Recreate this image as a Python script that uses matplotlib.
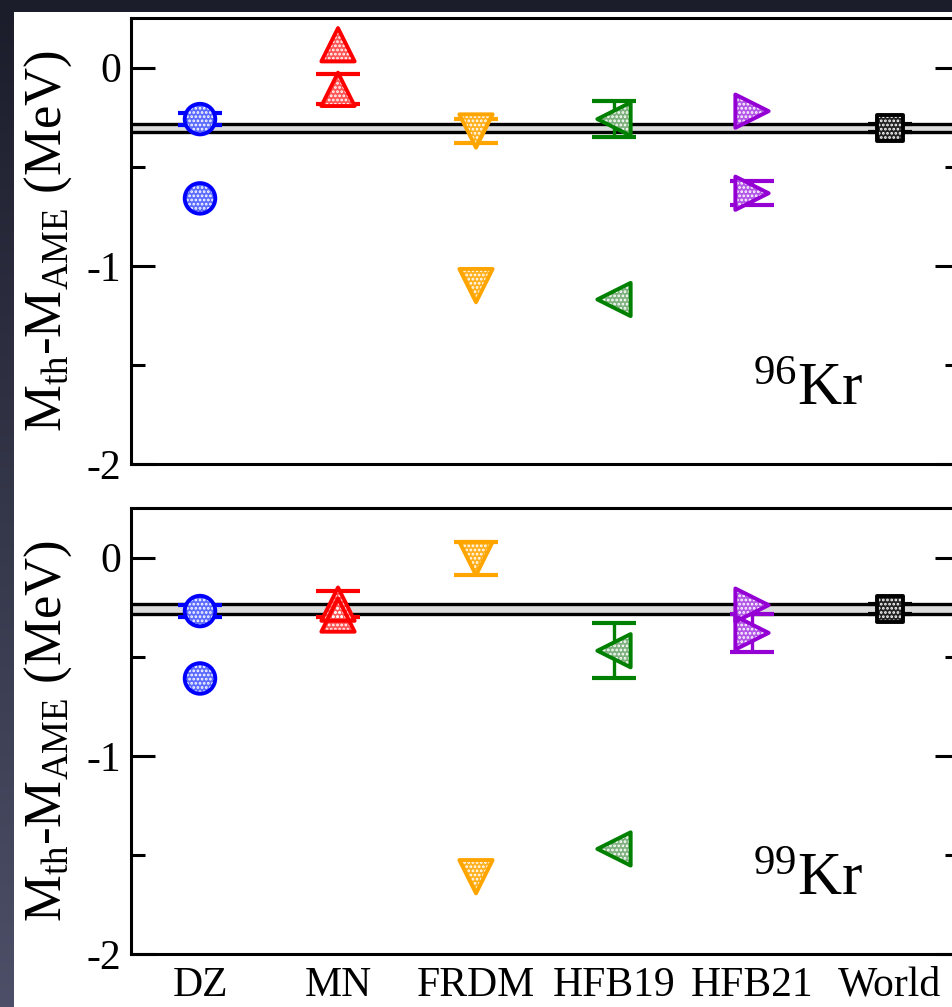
import numpy as np
import matplotlib
matplotlib.use("Agg")
import matplotlib.pyplot as plt
from matplotlib.patches import Rectangle
from matplotlib.ticker import FixedLocator, FuncFormatter
from matplotlib.colors import LinearSegmentedColormap

plt.rcParams['font.family'] = ['Liberation Serif', 'DejaVu Serif']
plt.rcParams['mathtext.fontset'] = 'custom'
plt.rcParams['mathtext.rm'] = 'Liberation Serif'
plt.rcParams['mathtext.it'] = 'Liberation Serif:italic'
plt.rcParams['hatch.linewidth'] = 1.3

# ---------------- data ----------------
models = ['DZ', 'MN', 'FRDM', 'HFB19', 'HFB21', 'World']

# 96Kr
kr96_err_vals = [-0.26, -0.11, -0.32, -0.26, -0.634]
kr96_err = [0.03, 0.075, 0.06, 0.09, 0.06]
kr96_noerr_vals = [-0.66, 0.115, -1.10, -1.17, -0.22]
kr96_world = -0.305
kr96_world_err = 0.02

# 99Kr
kr99_err_vals = [-0.27, -0.235, -0.005, -0.47, -0.38]
kr99_err = [0.03, 0.065, 0.085, 0.14, 0.095]
kr99_noerr_vals = [-0.61, -0.29, -1.61, -1.47, -0.24]
kr99_world = -0.26
kr99_world_err = 0.025

isotopes = ['96', '99']

# ---------------- styles ----------------
edge_colors = ['#0000ff', '#ff0000', '#ffa500', '#008000', '#9400d3']
face_colors = ['#5b6cff', '#ff5555', '#ffb01f', '#7fb07f', '#b257e6']
markers = ['o', '^', 'v', '<', '>']
msizes = [22, 24, 24, 24, 24]

W, H = 952, 1007
fig = plt.figure(figsize=(W / 100, H / 100), dpi=100)

# background gradient + white slide area
bg = fig.add_axes([0, 0, 1, 1], zorder=-10)
grad = np.linspace(0, 1, 256).reshape(-1, 1)
cmap = LinearSegmentedColormap.from_list('bg', ['#4c4f67', '#1c1d2b'])
bg.imshow(grad, aspect='auto', cmap=cmap, extent=[0, 1, 0, 1], origin='lower')
bg.add_patch(Rectangle((14 / W, 0), 1, 1 - 12 / H, transform=bg.transAxes,
                       facecolor='white', edgecolor='none'))
bg.set_xlim(0, 1)
bg.set_ylim(0, 1)
bg.axis('off')

left = 131 / W
width = 828 / W
hgt = 446 / H
ax1 = fig.add_axes([left, 1 - 464 / H, width, hgt])
ax2 = fig.add_axes([left, 1 - 954 / H, width, hgt])

x = np.arange(1, len(models) + 1)


def marker(ax, xv, yv, m, ms, fc, ec, lw=2.8):
    ax.scatter([xv], [yv], s=ms ** 2, marker=m, facecolor=fc, edgecolor='none',
               linewidths=0, zorder=4)
    ax.scatter([xv], [yv], s=ms ** 2, marker=m, facecolor='none', edgecolor='white',
               linewidths=0, hatch='....', zorder=5)
    ax.scatter([xv], [yv], s=ms ** 2, marker=m, facecolor='none', edgecolor=ec,
               linewidths=lw, zorder=6)


def draw(ax, err_vals, errs, noerr_vals, world, world_err, iso, show_x):
    ax.set_xlim(0.5, 6.5)
    ax.set_ylim(-2, 0.25)
    # world band
    ax.axhspan(world - world_err, world + world_err, color='#dcdcdc', zorder=1, lw=0)
    ax.axhline(world - world_err, color='black', lw=2.4, zorder=2)
    ax.axhline(world + world_err, color='black', lw=2.4, zorder=2)

    for i in range(5):
        ax.errorbar(x[i], err_vals[i], yerr=errs[i], fmt='none', ecolor=edge_colors[i],
                    elinewidth=2.4, capsize=16, capthick=3.0, zorder=3)
        for val in (err_vals[i], noerr_vals[i]):
            marker(ax, x[i], val, markers[i], msizes[i], face_colors[i], edge_colors[i])
    # world point
    ax.errorbar(x[5], world, yerr=world_err, fmt='none', ecolor='black',
                elinewidth=2.4, capsize=16, capthick=3.0, zorder=3)
    marker(ax, x[5], world, 's', 19, '#222222', 'black')

    for sp in ax.spines.values():
        sp.set_linewidth(2.2)
    ax.yaxis.set_major_locator(FixedLocator([-2, -1, 0]))
    ax.yaxis.set_minor_locator(FixedLocator([-1.5, -0.5]))
    ax.yaxis.set_major_formatter(FuncFormatter(lambda v, p: '%d' % v))
    ax.tick_params(axis='y', which='major', direction='in', length=17, width=2.2,
                   left=True, right=True, labelsize=30, pad=7)
    ax.tick_params(axis='y', which='minor', direction='in', length=10, width=2.2,
                   left=True, right=True)
    ax.set_xticks(x)
    if show_x:
        ax.set_xticklabels(models)
    else:
        ax.set_xticklabels([])
    ax.tick_params(axis='x', length=0, labelsize=30, pad=9)
    ax.set_ylabel(r'M$_{\mathrm{th}}$-M$_{\mathrm{AME}}$ (MeV)', fontsize=38)
    ax.yaxis.set_label_coords(-0.069, 0.5)
    ax.text(5.41, -1.63, r'$^{%s}$Kr' % iso, fontsize=44, ha='center', va='center')


draw(ax1, kr96_err_vals, kr96_err, kr96_noerr_vals, kr96_world, kr96_world_err,
     isotopes[0], False)
draw(ax2, kr99_err_vals, kr99_err, kr99_noerr_vals, kr99_world, kr99_world_err,
     isotopes[1], True)

fig.savefig('out.png', dpi=100, facecolor=fig.get_facecolor())
